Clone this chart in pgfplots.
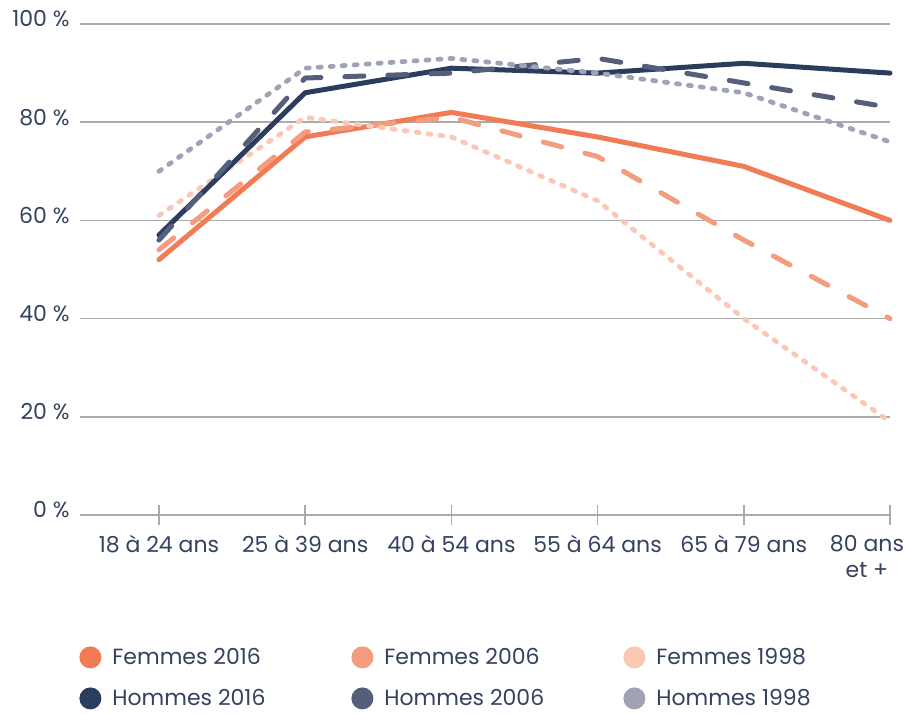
\documentclass[border=0pt]{standalone}
\usepackage{pgfplots}
\pgfplotsset{compat=1.18}
\usepackage{fontspec}
\setmainfont{Poppins}
\definecolor{txt}{HTML}{34425E}
\definecolor{gridc}{HTML}{ABABAB}
\definecolor{fA}{HTML}{F07B55}
\definecolor{fB}{HTML}{F39C7E}
\definecolor{fC}{HTML}{FAC8B4}
\definecolor{hA}{HTML}{2B3D5C}
\definecolor{hB}{HTML}{555E7A}
\definecolor{hC}{HTML}{A0A3B5}
\begin{document}
\begin{tikzpicture}
\begin{axis}[
  scale only axis, width=405pt, height=245.5pt,
  xmin=-0.54, xmax=5, ymin=0, ymax=100,
  clip=false,
  axis line style={draw=none},
  ytick={0,20,40,60,80,100},
  yticklabels={0 \%,20 \%,40 \%,60 \%,80 \%,100 \%},
  ymajorgrids, grid style={gridc, line width=0.75pt},
  ytick style={draw=none},
  xtick={0,1,2,3,4},
  xticklabels={18 à 24 ans,25 à 39 ans,40 à 54 ans,55 à 64 ans,65 à 79 ans},
  extra x ticks={5},
  extra x tick labels={80 ans\\et +},
  extra x tick style={xticklabel style={xshift=-11.5pt}},
  xtick pos=lower, tick align=center, major tick length=10pt,
  xtick style={gridc, line width=0.75pt},
  tick label style={font=\fontsize{11}{13}\selectfont, text=txt},
  yticklabel style={inner sep=0pt, xshift=0pt, yshift=2.5pt},
  xticklabel style={inner sep=0pt, align=center, yshift=-5pt},
  legend columns=3,
  legend style={draw=none, fill=none, at={(rel axis cs:0,0)}, anchor=north west,
    xshift=-3.5pt, yshift=-63.5pt, font=\fontsize{11}{13}\selectfont, text=txt,
    nodes={inner sep=0pt}, row sep=9.5pt,
    /tikz/every odd column/.style={column sep=5.5pt}},
  legend cell align=left,
  legend image code/.code={\fill[solid, draw=none] (5.5pt,0pt) circle (5.5pt);},
  every axis plot/.append style={line cap=round, line join=round},
]
\coordinate (O) at (rel axis cs:0,0);
\addplot[color=fA, line width=2.5pt] coordinates {(0,52) (1,77) (2,82) (3,77) (4,71) (5,60)};
\addlegendentry{\makebox[119.5pt][l]{Femmes 2016}}
\addplot[color=fB, line width=2.5pt, dash pattern=on 9.5pt off 12pt] coordinates {(0,54) (1,78) (2,81) (3,73) (4,56) (5,40)};
\addlegendentry{\makebox[119.5pt][l]{Femmes 2006}}
\addplot[color=fC, line width=2.4pt, dash pattern=on 1.5pt off 4.5pt] coordinates {(0,61) (1,81) (2,77) (3,64) (4,40) (5,19)};
\addlegendentry{Femmes 1998}
\addplot[color=hA, line width=2.5pt] coordinates {(0,57) (1,86) (2,91) (3,90) (4,92) (5,90)};
\addlegendentry{\makebox[119.5pt][l]{Hommes 2016}}
\addplot[color=hB, line width=2.5pt, dash pattern=on 9.5pt off 12pt] coordinates {(0,56) (1,89) (2,90) (3,93) (4,88) (5,83)};
\addlegendentry{\makebox[119.5pt][l]{Hommes 2006}}
\addplot[color=hC, line width=2.4pt, dash pattern=on 1.5pt off 4.5pt] coordinates {(0,70) (1,91) (2,93) (3,90) (4,86) (5,76)};
\addlegendentry{Hommes 1998}
\end{axis}
\path (O) ++(-40pt,257.5pt) rectangle ++(453.5pt,-355pt);
\end{tikzpicture}
\end{document}
